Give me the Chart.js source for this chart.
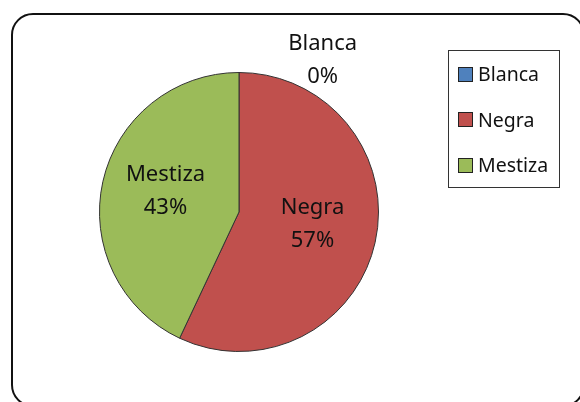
<!DOCTYPE html>
<html>
<head>
<meta charset="utf-8">
<script src="https://cdn.jsdelivr.net/npm/chart.js@4"></script>
<style>
    html, body { margin: 0; padding: 0; background: #fff; }
    #wrap { position: relative; width: 580px; height: 402px; overflow: hidden; }
    #frame {
        position: absolute; left: 11px; top: 13px; width: 574px; height: 394px;
        border: 2px solid #111; border-radius: 22px; box-sizing: border-box;
    }
    #chart { position: absolute; left: 0; top: 0; }
    #legend {
        position: absolute; left: 448px; top: 50px; width: 112px; height: 138px;
        border: 1px solid #333; box-sizing: border-box;
        font-family: "Noto Sans", sans-serif; font-size: 19.5px; color: #111;
    }
    .item { position: absolute; left: 9px; height: 24px; line-height: 24px; }
    .box { display: inline-block; width: 13px; height: 13px; border: 1px solid #222;
           vertical-align: middle; margin-right: 5px; margin-top: -3px; }
</style>
</head>
<body>
<div id="wrap">
    <div id="frame"></div>
    <canvas id="chart" width="580" height="402"></canvas>
    <div id="legend"></div>
</div>
<script>
// Datos
const categorias = ['Blanca', 'Negra', 'Mestiza'];
const valores = [0, 57, 43];
const colores = ['#4F81BD', '#C0504D', '#9BBB59'];

// Etiquetas sobre las porciones
const etiquetasPlugin = {
    id: 'etiquetas',
    afterDatasetsDraw(chart) {
        const ctx = chart.ctx;
        const arcs = chart.getDatasetMeta(0).data;
        ctx.save();
        ctx.font = '22px "Noto Sans", sans-serif';
        ctx.fillStyle = '#111';
        ctx.textAlign = 'center';
        ctx.textBaseline = 'middle';
        arcs.forEach((arc, i) => {
            let x, y;
            if (valores[i] === 0) {
                // fuera del pastel, arriba a la derecha
                x = arc.x + arc.outerRadius * 0.6;
                y = arc.y - arc.outerRadius - 12;
            } else {
                const mid = (arc.startAngle + arc.endAngle) / 2;
                const r = arc.outerRadius * 0.54;
                x = arc.x + Math.cos(mid) * r;
                y = arc.y + Math.sin(mid) * r - 4;
            }
            ctx.fillText(categorias[i], x, y - 17);
            ctx.fillText(valores[i] + '%', x, y + 16);
        });
        ctx.restore();
    }
};

// Leyenda en HTML
function crearLeyenda() {
    const legend = document.getElementById('legend');
    categorias.forEach((c, i) => {
        const div = document.createElement('div');
        div.className = 'item';
        div.style.top = (11 + i * 45.5) + 'px';
        div.innerHTML = '<span class="box" style="background:' + colores[i] + '"></span>' + c;
        legend.appendChild(div);
    });
}

document.addEventListener('DOMContentLoaded', function() {
    crearLeyenda();
    const ctx = document.getElementById('chart').getContext('2d');
    new Chart(ctx, {
        type: 'pie',
        data: {
            labels: categorias,
            datasets: [{
                data: valores,
                backgroundColor: colores,
                borderColor: '#333',
                borderWidth: 1
            }]
        },
        options: {
            responsive: false,
            animation: false,
            layout: { padding: { left: 99, right: 201, top: 70, bottom: 48 } },
            plugins: {
                legend: { display: false },
                tooltip: { enabled: false }
            }
        },
        plugins: [etiquetasPlugin]
    });
});
</script>
</body>
</html>
